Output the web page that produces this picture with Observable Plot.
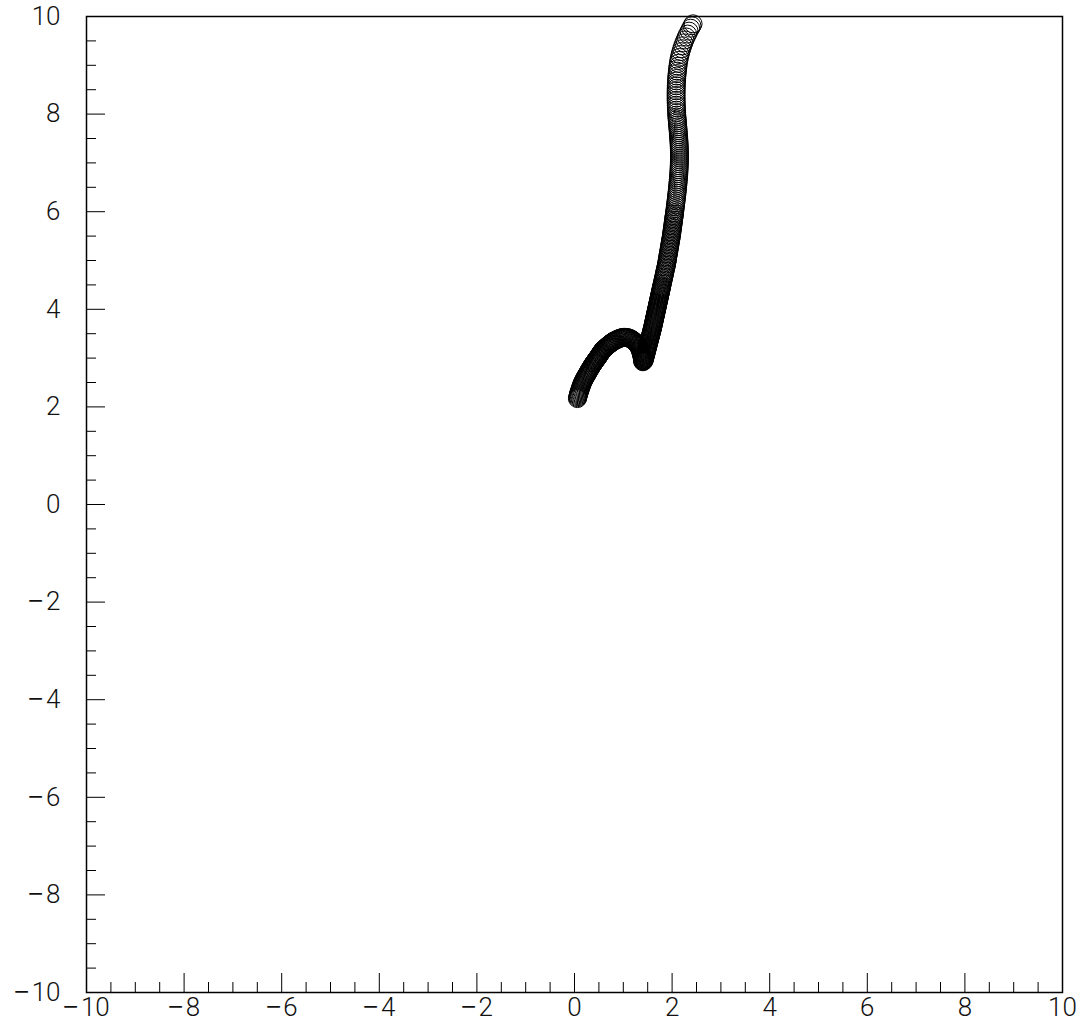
<!DOCTYPE html>
<html>
<head>
<meta charset="utf-8">
<script src="https://cdn.jsdelivr.net/npm/d3@7"></script>
<script src="https://cdn.jsdelivr.net/npm/@observablehq/plot@0.6"></script>
<style>
  /* Tick-label minus sign: a wider glyph than the digit face provides */
  @font-face {
    font-family: "AxisMinus";
    src: local("Liberation Sans"), local("LiberationSans");
    unicode-range: U+2212;
  }
  html, body { margin: 0; padding: 0; background: #ffffff; }
  #chart { width: 1086px; height: 1032px; }
</style>
</head>
<body>
<div id="chart"></div>
<script>
// Axis ticks (major every 2, minor every 0.5)
const majorTicks = [-10, -8, -6, -4, -2, 0, 2, 4, 6, 8, 10];
const minorTicks = [-9.5, -9, -8.5, -7.5, -7, -6.5, -5.5, -5, -4.5, -3.5, -3, -2.5,
  -1.5, -1, -0.5, 0.5, 1, 1.5, 2.5, 3, 3.5, 4.5, 5, 5.5, 6.5, 7, 7.5, 8.5, 9, 9.5];

// Track points: lower arc rising from its start to the crest
const arcPath = [
  [0.06, 2.17], [0.065, 2.19], [0.07, 2.21], [0.075, 2.23], [0.08, 2.25], [0.085, 2.27],
  [0.09, 2.29], [0.10, 2.31], [0.105, 2.33], [0.11, 2.35], [0.12, 2.37], [0.125, 2.39],
  [0.13, 2.41], [0.14, 2.43], [0.145, 2.45], [0.155, 2.47], [0.16, 2.49], [0.17, 2.51],
  [0.18, 2.53], [0.19, 2.55], [0.20, 2.57], [0.21, 2.59], [0.22, 2.61], [0.235, 2.63],
  [0.245, 2.65], [0.255, 2.67], [0.27, 2.69], [0.28, 2.71], [0.29, 2.73], [0.30, 2.75],
  [0.315, 2.77], [0.325, 2.79], [0.34, 2.81], [0.35, 2.83], [0.36, 2.85], [0.375, 2.87],
  [0.39, 2.89], [0.40, 2.905], [0.41, 2.92], [0.42, 2.935], [0.43, 2.95], [0.44, 2.965],
  [0.455, 2.98], [0.465, 2.995], [0.475, 3.01], [0.485, 3.025], [0.495, 3.04], [0.505, 3.055],
  [0.515, 3.07], [0.525, 3.085], [0.535, 3.10], [0.545, 3.115], [0.555, 3.13], [0.565, 3.145],
  [0.575, 3.16], [0.59, 3.175], [0.605, 3.19], [0.62, 3.20], [0.635, 3.215], [0.65, 3.23],
  [0.665, 3.24], [0.68, 3.255], [0.695, 3.265], [0.71, 3.28], [0.725, 3.29], [0.74, 3.30],
  [0.755, 3.315], [0.77, 3.325], [0.785, 3.335], [0.80, 3.345], [0.82, 3.355], [0.84, 3.365],
  [0.86, 3.375], [0.88, 3.385], [0.90, 3.395], [0.92, 3.40], [0.94, 3.41], [0.96, 3.415],
  [0.98, 3.42], [1.00, 3.425], [1.02, 3.425], [1.04, 3.425]
];

// Track points: hook falling from the crest down to the turning point
const hookPath = [
  [1.06, 3.42], [1.08, 3.42], [1.10, 3.415], [1.12, 3.41], [1.14, 3.40], [1.16, 3.39],
  [1.175, 3.38], [1.19, 3.37], [1.205, 3.36], [1.22, 3.345], [1.235, 3.335], [1.25, 3.32],
  [1.265, 3.305], [1.28, 3.29], [1.29, 3.275], [1.30, 3.26], [1.31, 3.245], [1.32, 3.23],
  [1.33, 3.21], [1.34, 3.195], [1.345, 3.18], [1.35, 3.16], [1.355, 3.145], [1.36, 3.13],
  [1.365, 3.11], [1.37, 3.095], [1.375, 3.08], [1.38, 3.06], [1.382, 3.045], [1.385, 3.03],
  [1.388, 3.01], [1.39, 2.995], [1.392, 2.98], [1.395, 2.965], [1.397, 2.95], [1.40, 2.935],
  [1.40, 2.925]
];

// Track points: long climb from the turning point up to the top edge
const risePath = [
  [1.423, 2.94], [1.428, 2.96], [1.433, 2.98], [1.439, 3.00], [1.444, 3.02], [1.449, 3.04],
  [1.454, 3.06], [1.459, 3.08], [1.465, 3.10], [1.470, 3.12], [1.475, 3.14], [1.480, 3.16],
  [1.485, 3.18], [1.491, 3.20], [1.496, 3.22], [1.501, 3.24], [1.506, 3.26], [1.511, 3.28],
  [1.517, 3.30], [1.522, 3.32], [1.527, 3.34], [1.532, 3.36], [1.537, 3.38], [1.543, 3.40],
  [1.548, 3.42], [1.553, 3.44], [1.558, 3.46], [1.563, 3.48], [1.569, 3.50], [1.574, 3.52],
  [1.579, 3.54], [1.584, 3.56], [1.589, 3.58], [1.595, 3.60], [1.599, 3.62], [1.604, 3.64],
  [1.608, 3.66], [1.613, 3.68], [1.617, 3.70], [1.621, 3.72], [1.626, 3.74], [1.630, 3.76],
  [1.635, 3.78], [1.639, 3.80], [1.643, 3.82], [1.648, 3.84], [1.652, 3.86], [1.657, 3.88],
  [1.661, 3.90], [1.665, 3.92], [1.670, 3.94], [1.674, 3.96], [1.679, 3.98], [1.683, 4.00],
  [1.687, 4.02], [1.692, 4.04], [1.696, 4.06], [1.701, 4.08], [1.705, 4.10], [1.709, 4.12],
  [1.714, 4.14], [1.718, 4.16], [1.723, 4.18], [1.727, 4.20], [1.731, 4.22], [1.736, 4.24],
  [1.740, 4.26], [1.745, 4.28], [1.749, 4.30], [1.753, 4.32], [1.758, 4.34], [1.762, 4.36],
  [1.767, 4.38], [1.771, 4.40], [1.775, 4.42], [1.780, 4.44], [1.784, 4.46], [1.789, 4.48],
  [1.795, 4.51], [1.802, 4.54], [1.809, 4.57], [1.815, 4.60], [1.822, 4.63], [1.828, 4.66],
  [1.835, 4.69], [1.842, 4.72], [1.848, 4.75], [1.855, 4.78], [1.861, 4.81], [1.868, 4.84],
  [1.875, 4.87], [1.881, 4.90], [1.888, 4.93], [1.893, 4.96], [1.898, 4.99], [1.903, 5.02],
  [1.908, 5.05], [1.913, 5.08], [1.918, 5.11], [1.923, 5.14], [1.929, 5.17], [1.934, 5.20],
  [1.939, 5.23], [1.944, 5.26], [1.949, 5.29], [1.954, 5.32], [1.959, 5.35], [1.964, 5.38],
  [1.969, 5.41], [1.974, 5.44], [1.980, 5.47], [1.985, 5.50], [1.989, 5.53], [1.993, 5.56],
  [1.997, 5.59], [2.001, 5.62], [2.005, 5.65], [2.010, 5.68], [2.014, 5.71], [2.018, 5.74],
  [2.022, 5.77], [2.026, 5.80], [2.030, 5.83], [2.034, 5.86], [2.038, 5.89], [2.043, 5.92],
  [2.047, 5.95], [2.051, 5.98], [2.056, 6.02], [2.061, 6.06], [2.066, 6.10], [2.071, 6.14],
  [2.076, 6.18], [2.081, 6.22], [2.086, 6.26], [2.091, 6.30], [2.095, 6.34], [2.100, 6.38],
  [2.104, 6.42], [2.108, 6.46], [2.112, 6.50], [2.116, 6.54], [2.120, 6.58], [2.124, 6.62],
  [2.127, 6.66], [2.131, 6.70], [2.134, 6.74], [2.137, 6.78], [2.140, 6.82], [2.142, 6.86],
  [2.144, 6.90], [2.146, 6.94], [2.148, 6.98], [2.149, 7.02], [2.150, 7.06], [2.151, 7.10],
  [2.151, 7.14], [2.151, 7.18], [2.150, 7.22], [2.149, 7.26], [2.148, 7.30], [2.146, 7.34],
  [2.144, 7.38], [2.142, 7.42], [2.139, 7.46], [2.136, 7.50], [2.133, 7.54], [2.130, 7.58],
  [2.127, 7.62], [2.124, 7.66], [2.120, 7.70], [2.117, 7.74], [2.113, 7.78], [2.110, 7.82],
  [2.106, 7.86], [2.103, 7.90], [2.099, 7.94], [2.096, 7.98], [2.093, 8.03], [2.090, 8.08],
  [2.088, 8.13], [2.086, 8.18], [2.084, 8.23], [2.083, 8.28], [2.082, 8.33], [2.082, 8.38],
  [2.082, 8.43], [2.083, 8.48], [2.084, 8.53], [2.086, 8.58], [2.088, 8.63], [2.091, 8.68],
  [2.094, 8.73], [2.098, 8.78], [2.103, 8.83], [2.108, 8.88], [2.114, 8.93], [2.120, 8.98],
  [2.128, 9.04], [2.138, 9.10], [2.150, 9.16], [2.164, 9.22], [2.180, 9.28], [2.198, 9.34],
  [2.218, 9.40], [2.240, 9.46], [2.264, 9.52], [2.290, 9.58], [2.318, 9.64], [2.348, 9.70],
  [2.380, 9.76], [2.407, 9.81], [2.430, 9.85]
];

const track = [...arcPath, ...hookPath, ...risePath].map(([x, y]) => ({x, y}));

// Negative labels: minus sign set slightly apart from the digits
const fmt = d => (d < 0 ? "\u2212\u200A" + Math.abs(d) : String(d));

const labelFont = {
  fontFamily: "AxisMinus, Roboto, 'Liberation Sans', Helvetica, Arial, sans-serif",
  fontSize: 26,
  fontWeight: 300
};

const chart = Plot.plot({
  width: 1086,
  height: 1032,
  marginLeft: 86,
  marginRight: 24,
  marginTop: 16,
  marginBottom: 40,
  style: {
    fontFamily: "AxisMinus, Roboto, 'Liberation Sans', Helvetica, Arial, sans-serif",
    fontSize: "26px",
    color: "#000",
    background: "#ffffff",
    overflow: "visible"
  },
  x: {domain: [-10, 10], label: null},
  y: {domain: [-10, 10], label: null},
  marks: [
    // inward tick marks on the left and bottom edges
    Plot.axisX(minorTicks, {tickSize: -10, fill: null, label: null}),
    Plot.axisX(majorTicks, {tickSize: -19, fill: null, label: null}),
    Plot.axisY(minorTicks, {tickSize: -10, fill: null, label: null}),
    Plot.axisY(majorTicks, {tickSize: -19, fill: null, label: null}),
    // tick labels
    Plot.axisX(majorTicks, {tickSize: 0, tickPadding: 5, tickFormat: fmt, label: null, fill: "#111", ...labelFont}),
    Plot.axisY(majorTicks, {tickSize: 0, tickPadding: 26, tickFormat: fmt, label: null, fill: "#111", ...labelFont}),
    Plot.frame({stroke: "#000", strokeWidth: 1.5}),
    // open circular markers along the track
    Plot.dot(track, {x: "x", y: "y", r: 9, stroke: "#000", strokeWidth: 1, fill: "none"})
  ]
});

document.getElementById("chart").appendChild(chart);
</script>
</body>
</html>
